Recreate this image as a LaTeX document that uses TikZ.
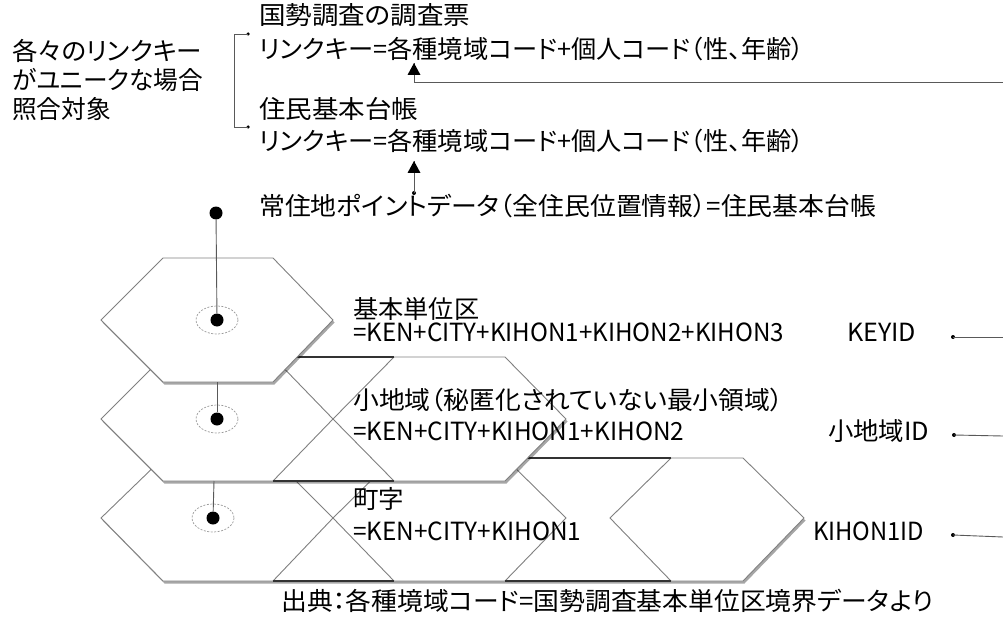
\documentclass[tikz,border=0pt]{standalone}
\usepackage{fontspec}
\usepackage{graphicx}
\setmainfont{Noto Sans CJK JP}[RawFeature={+palt}]
\usetikzlibrary{arrows.meta,shadows}
\newsavebox\fitbox
\newcommand\fitw[2]{\sbox\fitbox{#2}\scalebox{\fpeval{#1/(\the\wd\fitbox)}}[1]{\usebox\fitbox}}
\begin{document}
\begin{tikzpicture}[x=1pt,y=-1pt,
  lbl/.style={anchor=west,inner sep=0pt,font=\fontsize{25}{30}\selectfont,text height=0.88em,text depth=0.12em},
  hexline/.style={draw=black!50,line width=0.9pt},
  darkedge/.style={draw=black!80,line width=1.3pt},
  layer/.style={fill=white,draw=black!50,line width=0.9pt,drop shadow={shadow xshift=1.5pt,shadow yshift=-2.5pt,opacity=0.35,fill=black}},
  cdot/.style={circle,fill=black,inner sep=0pt,minimum size=13pt},
  tinydot/.style={circle,fill=black,inner sep=0pt,minimum size=4pt},
  conn/.style={draw=black!65,line width=0.9pt},
  ring/.style={draw=black!40,line width=0.7pt,dash pattern=on 2pt off 1.5pt},
  headfill/.style={fill=black}
]
\useasboundingbox (0,0) rectangle (1003,631);

% ---------- bottom layer ----------
\path[layer] (101,518)--(163,458)--(743,458)--(804,518)--(743,581)--(163,581)--cycle;
\draw[hexline] (273,458)--(333,518)--(273,581);
\draw[hexline] (394,458)--(333,518)--(394,581);
\draw[hexline] (505,458)--(566,518)--(505,581);
\draw[hexline] (671,458)--(610,518)--(671,581);
\draw[darkedge] (273,458)--(394,458) (273,581)--(394,581) (505,458)--(671,458) (505,581)--(671,581);

% ---------- middle layer ----------
\path[layer] (101,419)--(163,357)--(505,357)--(566,419)--(505,481)--(163,481)--cycle;
\draw[hexline] (273,357)--(333,419)--(273,481);
\draw[hexline] (394,357)--(333,419)--(394,481);
\draw[darkedge] (273,357)--(394,357) (273,481)--(394,481);

% ---------- top layer ----------
\path[layer] (101,320)--(163,258)--(273,258)--(333,320)--(273,382)--(163,382)--cycle;

% ---------- centre points ----------
\draw[ring] (217,320) ellipse [x radius=21, y radius=14];
\draw[ring] (217,419) ellipse [x radius=21, y radius=14];
\draw[ring] (213,518) ellipse [x radius=21, y radius=14];
\node[cdot] (c1) at (217,320) {};
\node[cdot] (c2) at (217,419) {};
\node[cdot] (c3) at (213,518) {};
\node[cdot] (pt) at (216,213) {};
\coordinate (m0) at (217,382);
\coordinate (b0) at (214,481);
\draw[conn] (pt) -- (c1);
\draw[conn] (m0) -- (c2);
\draw[conn] (b0) -- (c3);

% ---------- texts ----------
\node[lbl] (u1) at (12,57) {\fitw{190}{各々のリンクキー}};
\node[lbl] (u2) at (12,86) {\fitw{191}{がユニークな場合}};
\node[lbl] (u3) at (12,115) {\fitw{99}{照合対象}};

\node[lbl] (q1) at (259,21) {\fitw{211}{国勢調査の調査票}};
\node[lbl] (k1) at (259,55) {\fitw{545}{リンクキー=各種境域コード+個人コード（性、年齢）}};
\node[lbl] (q2) at (259,115) {\fitw{159}{住民基本台帳}};
\node[lbl] (k2) at (259,147) {\fitw{545}{リンクキー=各種境域コード+個人コード（性、年齢）}};
\node[lbl] (pd) at (259,212) {\fitw{617}{常住地ポイントデータ（全住民位置情報）=住民基本台帳}};

\node[lbl] (l1a) at (353,315) {\fitw{126}{基本単位区}};
\node[lbl] (l1b) at (353,338) {\fitw{431}{=KEN+CITY+KIHON1+KIHON2+KIHON3}};
\node[lbl] (id1) at (847,338) {\fitw{69}{KEYID}};
\node[lbl] (l2a) at (353,406) {\fitw{430}{小地域（秘匿化されていない最小領域）}};
\node[lbl] (l2b) at (353,437) {\fitw{331}{=KEN+CITY+KIHON1+KIHON2}};
\node[lbl] (id2) at (828,437) {\fitw{101}{小地域ID}};
\node[lbl] (l3a) at (353,505) {\fitw{51}{町字}};
\node[lbl] (l3b) at (353,537) {\fitw{228}{=KEN+CITY+KIHON1}};
\node[lbl] (id3) at (813,537) {\fitw{111}{KIHON1ID}};

\node[lbl] (src) at (281,607) {\fitw{652}{出典：各種境域コード=国勢調査基本単位区境界データより}};

% ---------- bracket ----------
\node[tinydot,minimum size=3.5pt] (bk1) at (248,34) {};
\node[tinydot,minimum size=3.5pt] (bk2) at (248,127) {};
\draw[conn] (bk1.center) -- ++(-14,0) |- (bk2.center);

% ---------- arrows ----------
\coordinate (ra) at (1003,82);
\coordinate (ta) at (414,63);
\draw[conn] (ra) -| (ta);
\fill[headfill] (ta) -- ++(-6.5,12) -- ++(13,0) -- cycle;
\node[tinydot] (d0) at (414,193) {};
\coordinate (tb) at (414,161);
\draw[conn] (d0.center) -- (tb);
\fill[headfill] (tb) -- ++(-6.5,12) -- ++(13,0) -- cycle;

% ---------- right-hand links ----------
\node[tinydot] (d1) at (953,337) {};
\node[tinydot] (d2) at (954,435) {};
\node[tinydot] (d3) at (953,535) {};
\coordinate (e1) at (1003,337);
\coordinate (e2) at (1003,436);
\coordinate (e3) at (1003,537);
\draw[conn] (d1.center) -- (e1);
\draw[conn] (d2.center) -- (e2);
\draw[conn] (d3.center) -- (e3);
\end{tikzpicture}
\end{document}
